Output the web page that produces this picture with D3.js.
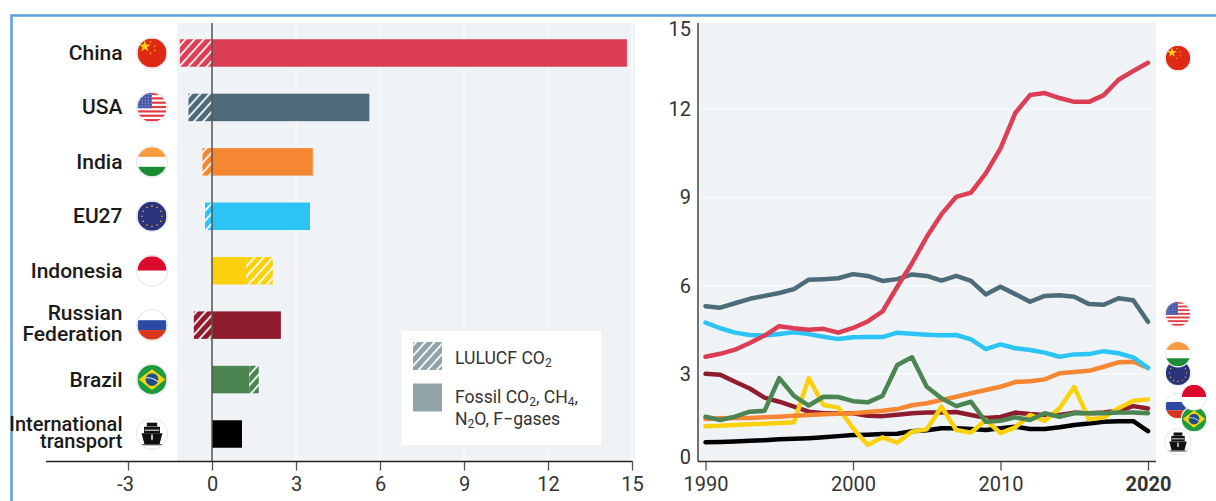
<!DOCTYPE html>
<html>
<head>
<meta charset="utf-8">
<script src="https://cdn.jsdelivr.net/npm/d3@7"></script>
<style>
html,body{margin:0;padding:0;background:#fff;overflow:hidden}
svg{display:block;font-family:Roboto,sans-serif}
</style>
</head>
<body>
<div id="chart"></div>
<script>
// ---------- data ----------
const categories = ["China","USA","India","EU27","Indonesia","Russian Federation","Brazil","International transport"];
const fossil = [14.82,5.62,3.6,3.5,1.22,2.46,1.33,1.07];
const lulucf = [-1.15,-0.84,-0.34,-0.25,0.95,-0.65,0.34,0];
const barColors = ["#dc3e55","#4d6b78","#f58632","#2cc4f5","#fbd10d","#8e1c2e","#4c8552","#000000"];
const flagKeys = ["cn","us","in","eu","id","ru","br","ship"];
const years = d3.range(1990,2021);
const china = [3.58,3.68,3.82,4.05,4.3,4.62,4.55,4.5,4.53,4.4,4.56,4.78,5.12,5.96,6.76,7.66,8.43,9.02,9.16,9.82,10.67,11.87,12.48,12.55,12.38,12.25,12.25,12.48,13.0,13.3,13.58];
const usa = [5.3,5.25,5.4,5.55,5.65,5.75,5.88,6.2,6.22,6.25,6.39,6.33,6.16,6.22,6.38,6.33,6.17,6.33,6.16,5.7,5.96,5.71,5.45,5.65,5.67,5.62,5.37,5.35,5.57,5.5,4.77];
const india = [1.46,1.49,1.5,1.5,1.52,1.54,1.57,1.6,1.62,1.64,1.66,1.7,1.74,1.8,1.93,2.0,2.11,2.22,2.34,2.45,2.56,2.72,2.75,2.81,3.02,3.06,3.1,3.24,3.39,3.41,3.2];
const eu27 = [4.74,4.55,4.4,4.32,4.3,4.35,4.41,4.35,4.26,4.18,4.24,4.25,4.25,4.4,4.36,4.33,4.31,4.32,4.17,3.84,4.0,3.87,3.81,3.72,3.58,3.66,3.67,3.77,3.7,3.56,3.2];
const indonesia = [1.22,1.23,1.26,1.28,1.3,1.33,1.35,2.85,1.94,1.85,1.15,0.58,0.84,0.66,1.03,1.11,1.88,1.09,1.0,1.43,0.98,1.18,1.6,1.4,1.83,2.55,1.45,1.51,1.83,2.08,2.13];
const russia = [3.0,2.97,2.73,2.5,2.19,2.05,1.88,1.71,1.66,1.66,1.66,1.57,1.56,1.61,1.66,1.68,1.68,1.7,1.6,1.5,1.53,1.68,1.63,1.6,1.6,1.68,1.66,1.68,1.74,1.9,1.82];
const brazil = [1.54,1.43,1.54,1.71,1.74,2.85,2.25,1.92,2.22,2.21,2.07,2.03,2.25,3.3,3.56,2.56,2.17,1.9,2.05,1.37,1.4,1.52,1.43,1.66,1.54,1.66,1.66,1.66,1.68,1.68,1.66];
const transport = [0.67,0.68,0.7,0.72,0.74,0.77,0.79,0.81,0.84,0.88,0.92,0.93,0.95,0.96,1.05,1.08,1.15,1.15,1.12,1.09,1.15,1.2,1.12,1.12,1.18,1.26,1.31,1.37,1.39,1.39,1.05];
const leftTicks = [-3,0,3,6,9,12,15];
const rightTicks = [0,3,6,9,12,15];
const yearTicks = [1990,2000,2010,2020];

// ---------- layout ----------
const W = 1216, H = 501;
const svg = d3.select("#chart").append("svg").attr("width",W).attr("height",H);
const defs = svg.append("defs");
const AX = 461.5, TOP = 23;
const x = d3.scaleLinear().domain([0,15]).range([212,632]);
const yBand = d3.scalePoint().domain(categories).range([53,434]);
const BAR_H = 27.5;
const xYear = d3.scaleLinear().domain([1990,2020]).range([705.5,1148]);
const yVal = d3.scaleLinear().domain([0,15]).range([462,21]);
const tickCol = "#333", gridCol = "#fafbfc", panelCol = "#eff3f6", TICK_FS = 20;

// frame
svg.append("path").attr("d",`M11.5 ${H+2}V15.5H${W+2}`).attr("fill","none").attr("stroke","#5b9fdb").attr("stroke-width",2.5);

// hatch patterns
function hatch(id,color){
  const p = defs.append("pattern").attr("id",id).attr("patternUnits","userSpaceOnUse")
    .attr("width",6.8).attr("height",6.8).attr("patternTransform","rotate(42)");
  p.append("rect").attr("width",6.8).attr("height",6.8).attr("fill",color);
  p.append("rect").attr("width",1.9).attr("height",6.8).attr("x",0).attr("fill","#fff").attr("opacity",0.9);
}
barColors.forEach((c,i)=>hatch("h"+i,c));
hatch("hLegend","#91a3a9");

// left panel
svg.append("rect").attr("x",177).attr("y",TOP).attr("width",458).attr("height",AX-TOP).attr("fill",panelCol);
svg.append("g").selectAll("line").data(leftTicks.filter(t=>t>0)).join("line")
  .attr("x1",d=>x(d)).attr("x2",d=>x(d)).attr("y1",TOP).attr("y2",AX).attr("stroke",gridCol).attr("stroke-width",1.2);

// bars
const bars = svg.append("g");
categories.forEach((c,i)=>{
  const yc = yBand(c);
  bars.append("rect").attr("x",x(0)).attr("y",yc-BAR_H/2).attr("width",x(fossil[i])-x(0)).attr("height",BAR_H).attr("fill",barColors[i]);
  const l = lulucf[i];
  if(l!==0){
    const a = l<0 ? l : fossil[i], b = l<0 ? 0 : fossil[i]+l;
    bars.append("rect").attr("x",x(a)).attr("y",yc-BAR_H/2).attr("width",x(b)-x(a)).attr("height",BAR_H).attr("fill",`url(#h${i})`);
  }
});
svg.append("line").attr("x1",x(0)).attr("x2",x(0)).attr("y1",TOP).attr("y2",AX).attr("stroke","#555").attr("stroke-width",1.5);

// left x axis
const leftAxis = d3.axisBottom(x).tickValues(leftTicks).tickSize(9).tickPadding(6).tickFormat(d=>String(d));
const gl = svg.append("g").attr("transform",`translate(0,${AX})`).call(leftAxis);
gl.select(".domain").remove();
gl.append("line").attr("x1",46).attr("x2",632.5).attr("stroke","#222").attr("stroke-width",1.5);
gl.selectAll(".tick line").attr("stroke","#555").attr("stroke-width",1.3);
gl.selectAll(".tick text").attr("fill",tickCol).attr("font-size",TICK_FS).attr("font-family","Roboto")
  .attr("dx",d=>d<0?-3:0);

// category labels
const labelLines = {"Russian Federation":["Russian","Federation"],"International transport":["International","transport"]};
categories.forEach(c=>{
  const lines = labelLines[c]||[c];
  const intl = c==="International transport";
  const gap = intl ? 17 : 21;
  const t = svg.append("text").attr("text-anchor","end").attr("font-weight",500).attr("font-size",intl?20:21).attr("fill","#1a1a1a");
  lines.forEach((s,j)=>{
    const base = lines.length>1 ? 5 : 7;
    t.append("tspan").attr("x",122.5).attr("y",yBand(c)+base+(j-(lines.length-1)/2)*gap).text(s);
  });
});

// flags
let clipN = 0;
function flag(cx,cy,r,key,halo){
  const g = svg.append("g").attr("transform",`translate(${cx},${cy})`);
  g.append("circle").attr("r",r+halo).attr("fill","#e4e9ed");
  g.append("circle").attr("r",r+0.3).attr("fill","#fff");
  const id = "c"+(clipN++);
  defs.append("clipPath").attr("id",id).append("circle").attr("r",r);
  const f = g.append("g").attr("clip-path",`url(#${id})`);
  const rc = (x0,y0,w,h,fill)=>f.append("rect").attr("x",x0*r).attr("y",y0*r).attr("width",w*r).attr("height",h*r).attr("fill",fill);
  const dot = (cx0,cy0,rr,fill)=>f.append("circle").attr("cx",cx0*r).attr("cy",cy0*r).attr("r",rr*r).attr("fill",fill);
  if(key==="cn"){
    rc(-1,-1,2,2,"#de2a12");
    f.append("path").attr("d",d3.symbol(d3.symbolStar,r*r*0.2)()).attr("transform",`translate(${-0.5*r},${-0.45*r})`).attr("fill","#fdd20a");
    [[-0.1,-0.78],[0.18,-0.5],[0.18,-0.18],[-0.1,0.02]].forEach(p=>dot(p[0],p[1],0.06,"#f5a70e"));
  } else if(key==="us"){
    rc(-1,-1,2,2,"#fff");
    d3.range(7).forEach(i=>rc(-1,-1+i*0.3,2,0.15,"#e43a44"));
    rc(-1,-1,1,1.05,"#4a5aa8");
    d3.range(-0.9,0,0.22).forEach(a=>d3.range(-0.9,0,0.2).forEach(b=>dot(a,b,0.035,"#c9cfe8")));
  } else if(key==="in"){
    rc(-1,-1,2,0.66,"#f69c3f"); rc(-1,-0.34,2,0.68,"#fff"); rc(-1,0.34,2,0.66,"#1c8b35");
  } else if(key==="eu"){
    rc(-1,-1,2,2,"#2a337c");
    d3.range(12).forEach(i=>{const a=i/12*2*Math.PI; dot(0.7*Math.cos(a),0.7*Math.sin(a),0.055,"#e6c619");});
  } else if(key==="id"){
    rc(-1,-1,2,1,"#dc0a2d"); rc(-1,0,2,1,"#fff");
  } else if(key==="ru"){
    rc(-1,-1,2,0.66,"#fff"); rc(-1,-0.34,2,0.68,"#2a4aa5"); rc(-1,0.34,2,0.66,"#d9351c");
  } else if(key==="br"){
    rc(-1,-1,2,2,"#1c9a3c");
    f.append("path").attr("d",`M${-0.92*r} 0L0 ${-0.72*r}L${0.92*r} 0L0 ${0.72*r}Z`).attr("fill","#f6d40c");
    dot(0,0,0.44,"#1f4f8c");
    f.append("path").attr("d",`M${-0.42*r} ${-0.12*r}Q0 ${-0.18*r} ${0.42*r} ${0.14*r}`).attr("stroke","#dfe8ef").attr("stroke-width",r*0.07).attr("fill","none");
  } else {
    rc(-1,-1,2,2,"#fff");
    f.append("path").attr("d",`M${-0.72*r} ${-0.05*r}H${0.72*r}L${0.52*r} ${0.7*r}H${-0.52*r}Z`).attr("fill","#111");
    rc(-0.55,-0.5,1.1,0.45,"#111"); rc(-0.36,-0.78,0.72,0.26,"#111");
    rc(-0.5,-0.3,1,0.08,"#ddd"); rc(-0.06,0.04,0.12,0.36,"#ddd");
    rc(-0.95,0.7,1.9,0.08,"#444");
  }
}
categories.forEach((c,i)=>flag(152,yBand(c),14.5,flagKeys[i],1.5));

// legend
svg.append("rect").attr("x",402).attr("y",331).attr("width",199).attr("height",114).attr("fill","#fff");
svg.append("rect").attr("x",413).attr("y",342).attr("width",29).attr("height",28).attr("fill","url(#hLegend)");
svg.append("rect").attr("x",413).attr("y",383.5).attr("width",29).attr("height",28).attr("fill","#91a3a9");
function richText(xp,yp,parts){
  const t = svg.append("text").attr("x",xp).attr("y",yp).attr("font-size",17.6).attr("fill","#333");
  let shift = 0;
  parts.forEach(p=>{
    if(p.startsWith("_")){
      t.append("tspan").attr("font-size",12).attr("dy",3).text(p.slice(1));
      shift = -3;
    } else {
      t.append("tspan").attr("dy",shift).text(p);
      shift = 0;
    }
  });
}
richText(455,364,["LULUCF CO","_2"]);
richText(455,403,["Fossil CO","_2",", CH","_4",","]);
richText(455,425,["N","_2","O, F\u2212gases"]);

// right panel
svg.append("rect").attr("x",699).attr("y",TOP).attr("width",457).attr("height",AX-TOP).attr("fill",panelCol);
svg.append("g").selectAll("line").data([3,6,9,12]).join("line")
  .attr("x1",699).attr("x2",1156).attr("y1",d=>yVal(d)).attr("y2",d=>yVal(d)).attr("stroke",gridCol).attr("stroke-width",1.2);

// lines
const line = d3.line().x((d,i)=>xYear(years[i])).y(d=>yVal(d));
const seriesDraw = [[transport,7],[russia,5],[indonesia,4],[india,2],[brazil,6],[eu27,3],[usa,1],[china,0]];
svg.append("g").selectAll("path").data(seriesDraw).join("path")
  .attr("d",d=>line(d[0])).attr("fill","none").attr("stroke",d=>barColors[d[1]])
  .attr("stroke-width",4.5).attr("stroke-linecap","round").attr("stroke-linejoin","round");

// right axes
svg.append("line").attr("x1",698).attr("x2",698).attr("y1",TOP).attr("y2",AX).attr("stroke","#444").attr("stroke-width",1.5);
const rightYAxis = svg.append("g");
rightTicks.forEach(t=>{
  const nudge = t===15 ? 8 : t===0 ? -5 : 0;
  rightYAxis.append("text").attr("x",691).attr("y",yVal(t)+nudge).attr("dy","0.35em").attr("text-anchor","end")
    .attr("font-size",TICK_FS).attr("fill",tickCol).text(t);
});
const bottomAxis = d3.axisBottom(xYear).tickValues(yearTicks).tickSize(9).tickPadding(6).tickFormat(d3.format("d"));
const gr = svg.append("g").attr("transform",`translate(0,${AX})`).call(bottomAxis);
gr.select(".domain").remove();
gr.append("line").attr("x1",698).attr("x2",1156).attr("stroke","#333").attr("stroke-width",1.5);
gr.selectAll(".tick line").attr("stroke","#555").attr("stroke-width",1.3);
gr.selectAll(".tick text").attr("fill",tickCol).attr("font-size",TICK_FS).attr("font-family","Roboto")
  .attr("font-weight",d=>d===2020?700:400);

// end-of-line flags: height in chart units, column in px from the first column
const endFlagKeys = ["cn","us","eu","in","ship","ru","br","id"];
const endFlagHeights = [13.74,5.03,3.03,3.67,0.68,1.9,1.46,2.21];
const endFlagColumn = [0,0,0,0,0,0,16,16];
endFlagKeys.forEach((k,i)=>flag(1178+endFlagColumn[i],yVal(endFlagHeights[i]),12.2,k,1.2));
</script>
</body>
</html>
